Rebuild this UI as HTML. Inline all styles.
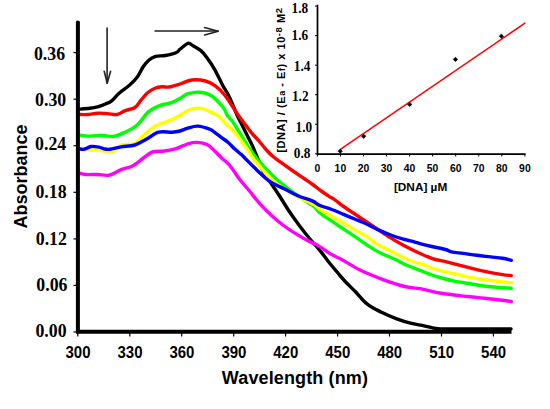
<!DOCTYPE html>
<html><head><meta charset="utf-8"><style>
html,body{margin:0;padding:0;background:#fff;width:550px;height:409px;overflow:hidden}
svg{display:block}
</style></head><body>
<svg width="550" height="409" viewBox="0 0 550 409">
<rect width="550" height="409" fill="#fff"/>
<g fill="none" stroke-linejoin="round" stroke-linecap="round" stroke-width="3.4">
<path stroke="#000" d="M78.00 109.30C79.97 109.13 86.53 108.72 89.80 108.30C93.07 107.88 94.98 107.52 97.60 106.80C100.22 106.08 103.15 105.00 105.50 104.00C107.85 103.00 109.43 102.60 111.70 100.80C113.97 99.00 116.15 95.78 119.10 93.20C122.05 90.62 126.37 88.00 129.40 85.30C132.43 82.60 135.00 80.08 137.30 77.00C139.60 73.92 141.25 69.63 143.20 66.80C145.15 63.97 146.92 61.75 149.00 60.00C151.08 58.25 153.00 57.05 155.70 56.30C158.40 55.55 161.83 56.08 165.20 55.50C168.57 54.92 173.38 53.88 175.90 52.80C178.42 51.72 178.27 50.57 180.30 49.00C182.33 47.43 185.98 43.95 188.10 43.40C190.22 42.85 190.87 44.50 193.00 45.70C195.13 46.90 198.60 48.63 200.90 50.60C203.20 52.57 204.52 54.38 206.80 57.50C209.08 60.62 211.98 64.72 214.60 69.30C217.22 73.88 220.08 80.47 222.50 85.00C224.92 89.53 226.68 91.50 229.10 96.50C231.52 101.50 234.95 110.45 237.00 115.00C239.05 119.55 239.75 120.50 241.40 123.80C243.05 127.10 245.07 131.13 246.90 134.80C248.73 138.47 250.93 142.68 252.40 145.80C253.87 148.92 253.90 149.23 255.70 153.50C257.50 157.77 260.65 166.45 263.20 171.40C265.75 176.35 268.38 179.27 271.00 183.20C273.62 187.13 275.82 190.23 278.90 195.00C281.98 199.77 286.10 206.72 289.50 211.80C292.90 216.88 296.03 221.13 299.30 225.50C302.57 229.87 305.83 234.07 309.10 238.00C312.37 241.93 315.63 245.10 318.90 249.10C322.17 253.10 325.53 258.02 328.70 262.00C331.87 265.98 335.07 269.67 337.90 273.00C340.73 276.33 342.77 278.87 345.70 282.00C348.63 285.13 351.90 288.10 355.50 291.80C359.10 295.50 363.05 300.83 367.30 304.20C371.55 307.57 376.08 309.55 381.00 312.00C385.92 314.45 391.88 317.03 396.80 318.90C401.72 320.77 405.93 322.05 410.50 323.20C415.07 324.35 419.62 324.88 424.20 325.80C428.78 326.72 432.03 328.17 438.00 328.70C443.97 329.23 447.83 328.97 460.00 329.00C472.17 329.03 502.50 328.92 511.00 328.90"/>
<path stroke="#ff0000" d="M78.00 114.50C79.63 114.50 84.53 114.72 87.80 114.50C91.07 114.28 94.32 113.35 97.60 113.20C100.88 113.05 104.22 113.38 107.50 113.60C110.78 113.82 114.37 115.00 117.30 114.50C120.23 114.00 122.17 111.77 125.10 110.60C128.03 109.43 132.25 109.23 134.90 107.50C137.55 105.77 138.88 102.65 141.00 100.20C143.12 97.75 145.27 94.80 147.60 92.80C149.93 90.80 152.55 89.20 155.00 88.20C157.45 87.20 159.97 87.00 162.30 86.80C164.63 86.60 166.05 87.47 169.00 87.00C171.95 86.53 176.20 85.17 180.00 84.00C183.80 82.83 187.55 80.50 191.80 80.00C196.05 79.50 201.58 80.02 205.50 81.00C209.42 81.98 212.02 83.45 215.30 85.90C218.58 88.35 221.40 90.85 225.20 95.70C229.00 100.55 234.85 110.32 238.10 115.00C241.35 119.68 242.50 120.87 244.70 123.80C246.90 126.73 248.92 129.73 251.30 132.60C253.68 135.47 256.55 138.18 259.00 141.00C261.45 143.82 263.67 146.92 266.00 149.50C268.33 152.08 270.33 154.22 273.00 156.50C275.67 158.78 278.67 160.78 282.00 163.20C285.33 165.62 289.33 168.45 293.00 171.00C296.67 173.55 300.83 176.33 304.00 178.50C307.17 180.67 309.00 181.83 312.00 184.00C315.00 186.17 319.10 189.40 322.00 191.50C324.90 193.60 327.32 195.25 329.40 196.60C331.48 197.95 332.13 197.95 334.50 199.60C336.87 201.25 340.13 204.03 343.60 206.50C347.07 208.97 351.38 211.78 355.30 214.40C359.22 217.02 363.17 219.58 367.10 222.20C371.03 224.82 374.97 227.48 378.90 230.10C382.83 232.72 386.77 235.45 390.70 237.90C394.63 240.35 398.58 242.67 402.50 244.80C406.42 246.93 409.32 248.45 414.20 250.70C419.08 252.95 426.90 256.55 431.80 258.30C436.70 260.05 439.68 260.22 443.60 261.20C447.52 262.18 451.38 263.22 455.30 264.20C459.22 265.18 463.17 266.12 467.10 267.10C471.03 268.08 474.97 269.18 478.90 270.10C482.83 271.02 486.77 271.85 490.70 272.60C494.63 273.35 499.07 274.10 502.50 274.60C505.93 275.10 509.83 275.43 511.30 275.60"/>
<path stroke="#00ff00" d="M78.00 134.80C79.97 135.02 85.87 136.03 89.80 136.10C93.73 136.17 97.68 135.13 101.60 135.20C105.52 135.27 109.38 137.00 113.30 136.50C117.22 136.00 121.17 134.07 125.10 132.20C129.03 130.33 132.97 128.73 136.90 125.30C140.83 121.87 144.92 114.88 148.70 111.60C152.48 108.32 155.82 107.10 159.60 105.60C163.38 104.10 167.80 103.92 171.40 102.60C175.00 101.28 178.45 99.18 181.20 97.70C183.95 96.22 184.83 94.62 187.90 93.70C190.97 92.78 195.68 91.87 199.60 92.20C203.52 92.53 207.47 93.15 211.40 95.70C215.33 98.25 220.58 104.28 223.20 107.50C225.82 110.72 225.53 112.65 227.10 115.00C228.67 117.35 230.77 119.03 232.60 121.60C234.43 124.17 236.27 127.47 238.10 130.40C239.93 133.33 241.77 136.27 243.60 139.20C245.43 142.13 246.90 144.78 249.10 148.00C251.30 151.22 254.12 155.20 256.80 158.50C259.48 161.80 261.85 164.28 265.20 167.80C268.55 171.32 272.98 176.05 276.90 179.60C280.82 183.15 284.43 185.88 288.70 189.10C292.97 192.32 298.25 195.95 302.50 198.90C306.75 201.85 311.28 204.45 314.20 206.80C317.12 209.15 317.07 210.60 320.00 213.00C322.93 215.40 327.87 218.52 331.80 221.20C335.73 223.88 339.68 226.48 343.60 229.10C347.52 231.72 351.38 234.25 355.30 236.90C359.22 239.55 362.98 242.35 367.10 245.00C371.22 247.65 375.35 250.42 380.00 252.80C384.65 255.18 390.83 257.35 395.00 259.30C399.17 261.25 400.83 262.67 405.00 264.50C409.17 266.33 415.53 268.55 420.00 270.30C424.47 272.05 427.87 273.63 431.80 275.00C435.73 276.37 439.68 277.45 443.60 278.50C447.52 279.55 451.38 280.52 455.30 281.30C459.22 282.08 463.17 282.55 467.10 283.20C471.03 283.85 474.97 284.60 478.90 285.20C482.83 285.80 486.77 286.38 490.70 286.80C494.63 287.22 499.07 287.45 502.50 287.70C505.93 287.95 509.83 288.20 511.30 288.30"/>
<path stroke="#ffff00" d="M78.00 149.90C81.27 149.90 91.87 149.57 97.60 149.90C103.33 150.23 108.47 152.72 112.40 151.90C116.33 151.08 117.45 146.40 121.20 145.00C124.95 143.60 130.97 145.33 134.90 143.50C138.83 141.67 141.20 137.00 144.80 134.00C148.40 131.00 151.93 127.92 156.50 125.50C161.07 123.08 168.28 121.20 172.20 119.50C176.12 117.80 177.07 116.97 180.00 115.30C182.93 113.63 186.20 110.63 189.80 109.50C193.40 108.37 197.67 107.85 201.60 108.50C205.53 109.15 210.80 112.32 213.40 113.40C216.00 114.48 215.47 113.63 217.20 115.00C218.93 116.37 221.78 119.58 223.80 121.60C225.82 123.62 227.28 125.08 229.30 127.10C231.32 129.12 233.70 131.13 235.90 133.70C238.10 136.27 240.48 139.75 242.50 142.50C244.52 145.25 246.17 147.45 248.00 150.20C249.83 152.95 251.62 156.45 253.50 159.00C255.38 161.55 256.38 162.12 259.30 165.50C262.22 168.88 266.75 175.37 271.00 179.30C275.25 183.23 280.22 186.17 284.80 189.10C289.38 192.03 293.60 194.28 298.50 196.90C303.40 199.52 310.62 202.70 314.20 204.80C317.78 206.90 317.07 207.58 320.00 209.50C322.93 211.42 327.87 214.02 331.80 216.30C335.73 218.58 339.68 220.90 343.60 223.20C347.52 225.50 351.38 227.82 355.30 230.10C359.22 232.38 363.17 234.37 367.10 236.90C371.03 239.43 374.97 242.95 378.90 245.30C382.83 247.65 386.77 249.02 390.70 251.00C394.63 252.98 398.90 255.45 402.50 257.20C406.10 258.95 408.55 260.15 412.30 261.50C416.05 262.85 421.75 264.20 425.00 265.30C428.25 266.40 428.70 267.08 431.80 268.10C434.90 269.12 439.68 270.42 443.60 271.40C447.52 272.38 451.38 273.08 455.30 274.00C459.22 274.92 463.17 276.08 467.10 276.90C471.03 277.72 474.97 278.30 478.90 278.90C482.83 279.50 486.77 280.00 490.70 280.50C494.63 281.00 499.07 281.52 502.50 281.90C505.93 282.28 509.83 282.65 511.30 282.80"/>
<path stroke="#0000ff" d="M78.00 148.20C79.00 148.38 81.83 149.58 84.00 149.30C86.17 149.02 88.50 146.87 91.00 146.50C93.50 146.13 96.83 146.72 99.00 147.10C101.17 147.48 102.17 148.43 104.00 148.80C105.83 149.17 107.13 149.63 110.00 149.30C112.87 148.97 117.05 147.52 121.20 146.80C125.35 146.08 130.65 146.30 134.90 145.00C139.15 143.70 142.77 141.13 146.70 139.00C150.63 136.87 154.25 133.33 158.50 132.20C162.75 131.07 168.62 132.40 172.20 132.20C175.78 132.00 177.38 131.68 180.00 131.00C182.62 130.32 184.95 128.92 187.90 128.10C190.85 127.28 194.10 125.93 197.70 126.10C201.30 126.27 206.62 128.02 209.50 129.10C212.38 130.18 212.98 131.18 215.00 132.60C217.02 134.02 219.40 135.95 221.60 137.60C223.80 139.25 226.00 140.58 228.20 142.50C230.40 144.42 232.60 147.08 234.80 149.10C237.00 151.12 239.57 152.95 241.40 154.60C243.23 156.25 242.82 156.03 245.80 159.00C248.78 161.97 255.10 168.53 259.30 172.40C263.50 176.27 266.75 179.42 271.00 182.20C275.25 184.98 280.22 186.80 284.80 189.10C289.38 191.40 293.92 194.03 298.50 196.00C303.08 197.97 308.72 199.32 312.30 200.90C315.88 202.48 316.75 204.07 320.00 205.50C323.25 206.93 327.87 208.02 331.80 209.50C335.73 210.98 339.68 212.77 343.60 214.40C347.52 216.03 351.38 217.67 355.30 219.30C359.22 220.93 363.17 222.40 367.10 224.20C371.03 226.00 374.97 228.30 378.90 230.10C382.83 231.90 386.77 233.53 390.70 235.00C394.63 236.47 398.58 237.75 402.50 238.90C406.42 240.05 411.28 241.12 414.20 241.90C417.12 242.68 417.07 242.83 420.00 243.60C422.93 244.37 427.55 245.52 431.80 246.50C436.05 247.48 442.23 248.62 445.50 249.50C448.77 250.38 448.45 251.15 451.40 251.80C454.35 252.45 458.95 252.82 463.20 253.40C467.45 253.98 472.32 254.72 476.90 255.30C481.48 255.88 486.43 256.40 490.70 256.90C494.97 257.40 499.07 257.73 502.50 258.30C505.93 258.87 509.83 259.97 511.30 260.30"/>
<path stroke="#ff00ff" d="M78.00 172.60C79.32 172.92 82.63 174.18 85.90 174.50C89.17 174.82 93.68 174.40 97.60 174.50C101.52 174.60 105.47 175.92 109.40 175.10C113.33 174.28 117.27 171.17 121.20 169.60C125.13 168.03 129.07 167.82 133.00 165.70C136.93 163.58 141.53 159.18 144.80 156.90C148.07 154.62 149.33 152.98 152.60 152.00C155.87 151.02 160.47 151.57 164.40 151.00C168.33 150.43 172.28 149.80 176.20 148.60C180.12 147.40 184.32 144.83 187.90 143.80C191.48 142.77 194.43 142.23 197.70 142.40C200.97 142.57 204.62 143.32 207.50 144.80C210.38 146.28 212.65 149.12 215.00 151.30C217.35 153.48 219.13 155.53 221.60 157.90C224.07 160.27 226.80 161.93 229.80 165.50C232.80 169.07 236.32 175.05 239.60 179.30C242.88 183.55 246.10 186.90 249.50 191.00C252.90 195.10 256.28 199.78 260.00 203.90C263.72 208.02 267.87 212.10 271.80 215.70C275.73 219.30 279.68 222.55 283.60 225.50C287.52 228.45 291.38 230.93 295.30 233.40C299.22 235.87 303.17 238.18 307.10 240.30C311.03 242.42 314.97 243.82 318.90 246.10C322.83 248.38 326.77 251.70 330.70 254.00C334.63 256.30 337.70 257.27 342.50 259.90C347.30 262.53 352.75 266.52 359.50 269.80C366.25 273.08 375.48 276.82 383.00 279.60C390.52 282.38 398.43 284.98 404.60 286.50C410.77 288.02 414.17 287.62 420.00 288.70C425.83 289.78 433.05 291.85 439.60 293.00C446.15 294.15 452.75 294.83 459.30 295.60C465.85 296.37 471.70 296.82 478.90 297.60C486.10 298.38 497.10 299.65 502.50 300.30C507.90 300.95 509.83 301.30 511.30 301.50"/>
</g>
<g stroke="#000" stroke-width="1.2"><line x1="73.5" y1="332.0" x2="78" y2="332.0"/><line x1="73.5" y1="285.4" x2="78" y2="285.4"/><line x1="73.5" y1="238.9" x2="78" y2="238.9"/><line x1="73.5" y1="192.3" x2="78" y2="192.3"/><line x1="73.5" y1="145.7" x2="78" y2="145.7"/><line x1="73.5" y1="99.2" x2="78" y2="99.2"/><line x1="73.5" y1="52.6" x2="78" y2="52.6"/><line x1="77.8" y1="332" x2="77.8" y2="336.5"/><line x1="129.8" y1="332" x2="129.8" y2="336.5"/><line x1="181.7" y1="332" x2="181.7" y2="336.5"/><line x1="233.7" y1="332" x2="233.7" y2="336.5"/><line x1="285.6" y1="332" x2="285.6" y2="336.5"/><line x1="337.6" y1="332" x2="337.6" y2="336.5"/><line x1="389.5" y1="332" x2="389.5" y2="336.5"/><line x1="441.5" y1="332" x2="441.5" y2="336.5"/><line x1="493.4" y1="332" x2="493.4" y2="336.5"/></g>
<path d="M77.9 22.6V331.8" fill="none" stroke="#000" stroke-width="4" stroke-linecap="round"/><path d="M76 331.8H511.5" fill="none" stroke="#000" stroke-width="4"/>
<g font-family="Liberation Serif" font-weight="bold" font-size="16.5" text-anchor="end" fill="#000"><text x="66.6" y="337.1" font-family="Liberation Serif" font-weight="bold" font-size="17.80" text-anchor="end" transform="matrix(1,0,0,1.100,0,-33.710)">0.00</text><text x="67.5" y="291.2" font-family="Liberation Serif" font-weight="bold" font-size="17.80" text-anchor="end" transform="matrix(1,0,0,1.100,0,-29.120)">0.06</text><text x="66.9" y="245.0" font-family="Liberation Serif" font-weight="bold" font-size="17.80" text-anchor="end" transform="matrix(1,0,0,1.100,0,-24.500)">0.12</text><text x="66.6" y="198.3" font-family="Liberation Serif" font-weight="bold" font-size="17.80" text-anchor="end" transform="matrix(1,0,0,1.100,0,-19.830)">0.18</text><text x="66.2" y="149.6" font-family="Liberation Serif" font-weight="bold" font-size="17.80" text-anchor="end" transform="matrix(1,0,0,1.100,0,-14.960)">0.24</text><text x="66.2" y="106.2" font-family="Liberation Serif" font-weight="bold" font-size="17.80" text-anchor="end" transform="matrix(1,0,0,1.100,0,-10.620)">0.30</text><text x="65.1" y="60.2" font-family="Liberation Serif" font-weight="bold" font-size="17.80" text-anchor="end" transform="matrix(1,0,0,1.100,0,-6.020)">0.36</text></g>
<g font-family="Liberation Sans" font-weight="bold" font-size="15" text-anchor="middle" fill="#000"><text x="78.0" y="357.8" font-family="Liberation Sans" font-weight="bold" font-size="15.00" text-anchor="middle" transform="matrix(1,0,0,1.150,0,-53.670)">300</text><text x="130.0" y="357.8" font-family="Liberation Sans" font-weight="bold" font-size="15.00" text-anchor="middle" transform="matrix(1,0,0,1.150,0,-53.670)">330</text><text x="181.9" y="357.8" font-family="Liberation Sans" font-weight="bold" font-size="15.00" text-anchor="middle" transform="matrix(1,0,0,1.150,0,-53.670)">360</text><text x="233.9" y="357.8" font-family="Liberation Sans" font-weight="bold" font-size="15.00" text-anchor="middle" transform="matrix(1,0,0,1.150,0,-53.670)">390</text><text x="285.8" y="357.8" font-family="Liberation Sans" font-weight="bold" font-size="15.00" text-anchor="middle" transform="matrix(1,0,0,1.150,0,-53.670)">420</text><text x="337.8" y="357.8" font-family="Liberation Sans" font-weight="bold" font-size="15.00" text-anchor="middle" transform="matrix(1,0,0,1.150,0,-53.670)">450</text><text x="389.7" y="357.8" font-family="Liberation Sans" font-weight="bold" font-size="15.00" text-anchor="middle" transform="matrix(1,0,0,1.150,0,-53.670)">480</text><text x="441.7" y="357.8" font-family="Liberation Sans" font-weight="bold" font-size="15.00" text-anchor="middle" transform="matrix(1,0,0,1.150,0,-53.670)">510</text><text x="493.6" y="357.8" font-family="Liberation Sans" font-weight="bold" font-size="15.00" text-anchor="middle" transform="matrix(1,0,0,1.150,0,-53.670)">540</text></g>
<text x="221.8" y="384.1" font-family="Liberation Sans" font-weight="bold" font-size="18" textLength="146.2" lengthAdjust="spacing">Wavelength (nm)</text>
<text transform="translate(26.8,176.6) rotate(-90)" font-family="Liberation Sans" font-weight="bold" font-size="18" text-anchor="middle">Absorbance</text>
<g stroke="#222" stroke-width="1.6" fill="none" stroke-linecap="round" stroke-linejoin="round">
<path d="M107.1 28V83"/><path d="M104.2 71.2L107.2 83.3L110.6 71.2"/>
<path d="M155 31H218"/><path d="M204.6 27.6L218.2 31.2L204.6 35"/>
</g>
<!-- inset -->
<path d="M317.5 4.8V154.1H525.5" fill="none" stroke="#000" stroke-width="1.7"/>
<g stroke="#000" stroke-width="1"><line x1="315" y1="153.8" x2="317.3" y2="153.8"/><line x1="315" y1="124.3" x2="317.3" y2="124.3"/><line x1="315" y1="94.7" x2="317.3" y2="94.7"/><line x1="315" y1="65.2" x2="317.3" y2="65.2"/><line x1="315" y1="35.6" x2="317.3" y2="35.6"/><line x1="315" y1="6.1" x2="317.3" y2="6.1"/><line x1="317.4" y1="153.8" x2="317.4" y2="156.5"/><line x1="340.4" y1="153.8" x2="340.4" y2="156.5"/><line x1="363.5" y1="153.8" x2="363.5" y2="156.5"/><line x1="386.5" y1="153.8" x2="386.5" y2="156.5"/><line x1="409.6" y1="153.8" x2="409.6" y2="156.5"/><line x1="432.6" y1="153.8" x2="432.6" y2="156.5"/><line x1="455.7" y1="153.8" x2="455.7" y2="156.5"/><line x1="478.8" y1="153.8" x2="478.8" y2="156.5"/><line x1="501.8" y1="153.8" x2="501.8" y2="156.5"/><line x1="524.9" y1="153.8" x2="524.9" y2="156.5"/></g>
<line x1="340" y1="149.6" x2="525.3" y2="22.9" stroke="#ff0000" stroke-width="1.6"/>
<g fill="#000" stroke="#000" stroke-width="0.8" stroke-linejoin="round"><path d="M340.2 149.1L342.3 151.2L340.2 153.3L338.1 151.2Z"/><path d="M363.7 134.2L365.8 136.3L363.7 138.4L361.6 136.3Z"/><path d="M409.7 102.3L411.8 104.4L409.7 106.5L407.6 104.4Z"/><path d="M455.4 57.3L457.5 59.4L455.4 61.5L453.3 59.4Z"/><path d="M501.4 34.1L503.5 36.2L501.4 38.3L499.3 36.2Z"/></g>
<g font-family="Liberation Serif" font-weight="bold" font-size="13" text-anchor="end"><text x="310.4" y="158.2" font-family="Liberation Serif" font-weight="bold" font-size="13.30" text-anchor="end" transform="matrix(1,0,0,1.150,0,-23.737)">0.8</text><text x="312.2" y="131.8" font-family="Liberation Serif" font-weight="bold" font-size="13.30" text-anchor="end" transform="matrix(1,0,0,1.150,0,-19.770)">1.0</text><text x="308.6" y="100.8" font-family="Liberation Serif" font-weight="bold" font-size="13.30" text-anchor="end" transform="matrix(1,0,0,1.150,0,-15.127)">1.2</text><text x="310.4" y="71.2" font-family="Liberation Serif" font-weight="bold" font-size="13.30" text-anchor="end" transform="matrix(1,0,0,1.150,0,-10.680)">1.4</text><text x="308.2" y="40.4" font-family="Liberation Serif" font-weight="bold" font-size="13.30" text-anchor="end" transform="matrix(1,0,0,1.150,0,-6.060)">1.6</text><text x="308.2" y="13.3" font-family="Liberation Serif" font-weight="bold" font-size="13.30" text-anchor="end" transform="matrix(1,0,0,1.150,0,-2.002)">1.8</text></g>
<g font-family="Liberation Sans" font-weight="bold" font-size="9" text-anchor="middle"><text x="317.4" y="171.6" font-family="Liberation Sans" font-weight="bold" font-size="10.40" text-anchor="middle" transform="matrix(1,0,0,1.020,0,-3.432)">0</text><text x="340.4" y="171.6" font-family="Liberation Sans" font-weight="bold" font-size="10.40" text-anchor="middle" transform="matrix(1,0,0,1.020,0,-3.432)">10</text><text x="363.5" y="171.6" font-family="Liberation Sans" font-weight="bold" font-size="10.40" text-anchor="middle" transform="matrix(1,0,0,1.020,0,-3.432)">20</text><text x="386.5" y="171.6" font-family="Liberation Sans" font-weight="bold" font-size="10.40" text-anchor="middle" transform="matrix(1,0,0,1.020,0,-3.432)">30</text><text x="409.6" y="171.6" font-family="Liberation Sans" font-weight="bold" font-size="10.40" text-anchor="middle" transform="matrix(1,0,0,1.020,0,-3.432)">40</text><text x="432.6" y="171.6" font-family="Liberation Sans" font-weight="bold" font-size="10.40" text-anchor="middle" transform="matrix(1,0,0,1.020,0,-3.432)">50</text><text x="455.7" y="171.6" font-family="Liberation Sans" font-weight="bold" font-size="10.40" text-anchor="middle" transform="matrix(1,0,0,1.020,0,-3.432)">60</text><text x="478.8" y="171.6" font-family="Liberation Sans" font-weight="bold" font-size="10.40" text-anchor="middle" transform="matrix(1,0,0,1.020,0,-3.432)">70</text><text x="501.8" y="171.6" font-family="Liberation Sans" font-weight="bold" font-size="10.40" text-anchor="middle" transform="matrix(1,0,0,1.020,0,-3.432)">80</text><text x="524.9" y="171.6" font-family="Liberation Sans" font-weight="bold" font-size="10.40" text-anchor="middle" transform="matrix(1,0,0,1.020,0,-3.432)">90</text></g>
<text x="420.6" y="191.4" font-family="Liberation Sans" font-weight="bold" font-size="11.8" text-anchor="middle">[DNA] µM</text>
<text transform="translate(284.8,152.6) rotate(-90)" font-family="Liberation Sans" font-weight="bold" font-size="11" text-anchor="start" textLength="144.6" lengthAdjust="spacing">[DNA] / (E<tspan font-size="9" dy="0.5">a</tspan><tspan dy="-0.5"> - E</tspan><tspan font-size="9" dy="0.5">f</tspan><tspan dy="-0.5">) x 10</tspan><tspan font-size="9.5" dy="-3">-8</tspan><tspan dy="3"> M</tspan><tspan font-size="9.5" dy="-3">2</tspan></text>
</svg>
</body></html>
